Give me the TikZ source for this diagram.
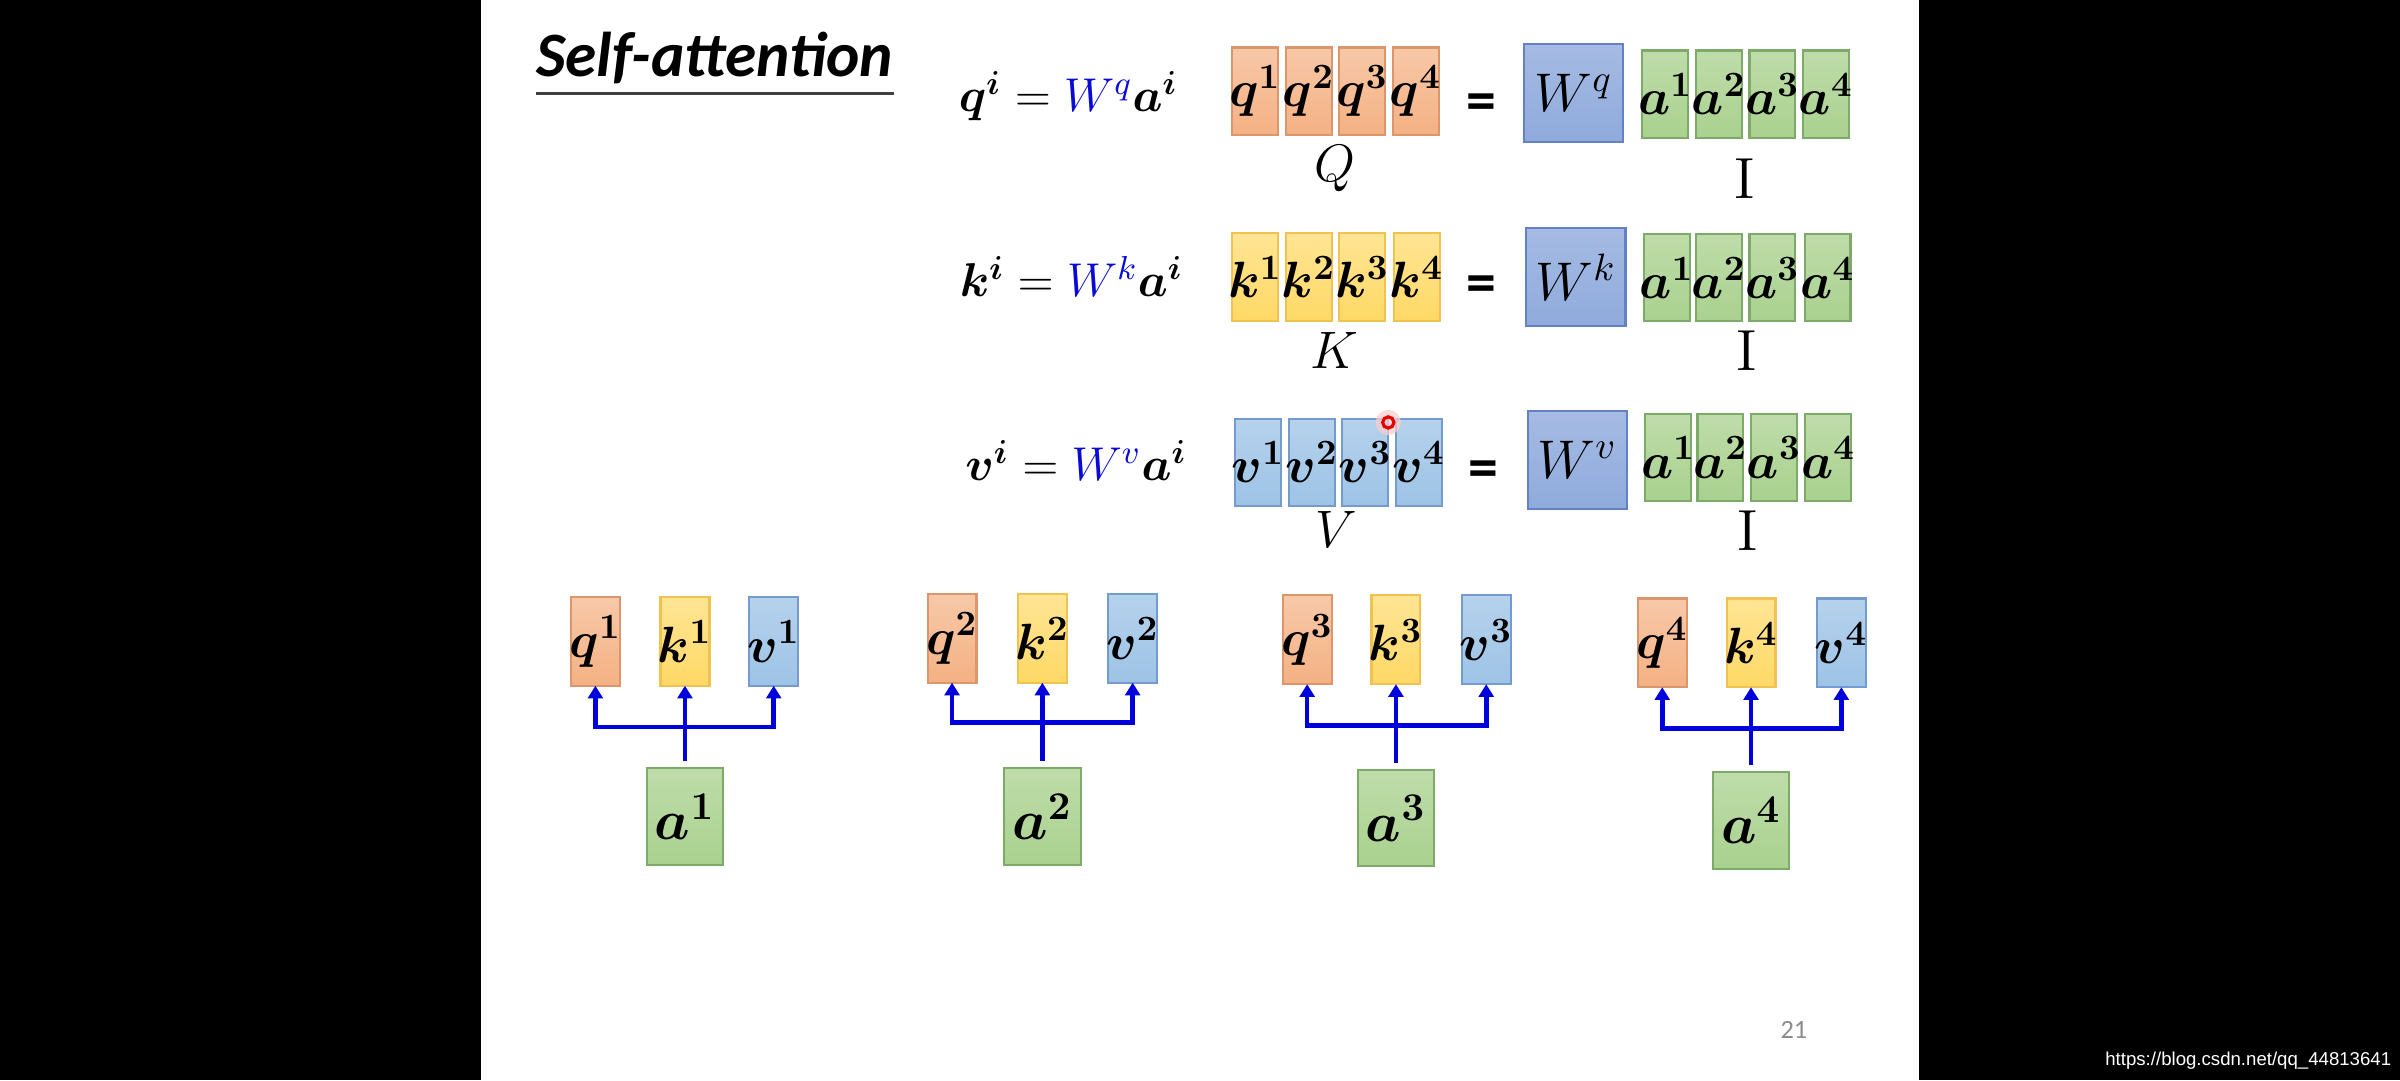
\RequirePackage{fix-cm}
\documentclass[tikz,border=0pt]{standalone}
\usepackage{amsmath}
\usepackage{bm}
\usepackage[no-math]{fontspec}
\setmainfont{Carlito}
\newfontfamily\wmfont{Liberation Sans}
\usetikzlibrary{arrows.meta}
\definecolor{qfill}{RGB}{244,177,131}
\definecolor{qdraw}{RGB}{220,150,110}
\definecolor{kfill}{RGB}{255,217,102}
\definecolor{kdraw}{RGB}{240,195,80}
\definecolor{vfill}{RGB}{157,195,230}
\definecolor{vdraw}{RGB}{115,155,205}
\definecolor{wfill}{RGB}{143,170,220}
\definecolor{wdraw}{RGB}{100,130,195}
\definecolor{afill}{RGB}{169,209,142}
\definecolor{adraw}{RGB}{125,170,105}
\definecolor{wblue}{RGB}{10,10,215}
\definecolor{linkblue}{RGB}{0,0,220}
\def\u{0.015306cm}
\newcommand{\cellmath}[1]{\makebox[0pt]{$#1$}}
\tikzset{
  cellbase/.style={line width=0.6pt, inner sep=0pt, outer sep=0pt,
    font=\fontsize{14.5}{16}\selectfont},
  qc/.style={cellbase, draw=qdraw, top color=qfill!70!white, bottom color=qfill},
  kc/.style={cellbase, draw=kdraw, top color=kfill!70!white, bottom color=kfill},
  vc/.style={cellbase, draw=vdraw, top color=vfill!75!white, bottom color=vfill},
  wc/.style={cellbase, draw=wdraw, top color=wfill!80!white, bottom color=wfill,
    font=\fontsize{15.5}{17}\selectfont},
  ac/.style={cellbase, draw=adraw, top color=afill!75!white, bottom color=afill},
  mcell/.style={minimum width=30*\u, minimum height=57*\u},
  bcell/.style={minimum width=32*\u, minimum height=58*\u},
  wcell/.style={minimum width=65*\u, minimum height=64*\u},
  acell/.style={minimum width=50*\u, minimum height=63*\u},
  eqn/.style={font=\fontsize{13.5}{15}\selectfont, inner sep=0pt},
  bigeq/.style={font=\fontsize{17}{20}\selectfont\bfseries, inner sep=0pt},
  lbl/.style={font=\fontsize{15}{17}\selectfont, inner sep=0pt},
  idl/.style={font=\fontsize{16.5}{19}\selectfont, inner sep=0pt},
  link/.style={draw=linkblue, line width=1.3pt},
  arr/.style={-{Triangle[length=3.6pt,width=4.2pt]}}
}
\begin{document}
\begin{tikzpicture}[x=0.015306cm, y=-0.015306cm]
\useasboundingbox (0,0) rectangle (1568,705.6);
\fill[black] (0,0) rectangle (1568,705.6);
\fill[white] (314,0) rectangle (1254,705.6);

% title
\node[anchor=base west, inner sep=0pt, font=\fontsize{18}{20}\selectfont\bfseries\itshape] (title) at (350,50) {Self-attention};
\draw[line width=0.9pt, black!75] (title.base west) ++(0,11) coordinate (ul) -- (ul -| title.base east);

% row 1: Q
\node[eqn, anchor=base] (eqq) at (698,73) {$\bm{q}^{\bm{i}} = {\color{wblue}W^{q}}\bm{a}^{\bm{i}}$};
\foreach \n/\x in {1/820,2/855,3/890,4/925}
  \node[qc, mcell] (Q\n) at (\x,59.5) {\cellmath{\bm{q}^{\mathbf{\n}}}};
\node[bigeq] (e1) at (968,70) {=};
\node[wc, wcell] (Wq) at (1028,60.5) {$W^{q}$};
\foreach \n/\x in {1/1088,2/1123,3/1158,4/1193}
  \node[ac, mcell] (IA\n) at (\x,61.5) {\cellmath{\bm{a}^{\mathbf{\n}}}};
\node[lbl] (lQ) at (872,110) {$Q$};
\node[idl] (lI1) at (1140,117) {$\mathrm{I}$};

% row 2: K
\node[eqn, anchor=base] (eqk) at (700,194) {$\bm{k}^{\bm{i}} = {\color{wblue}W^{k}}\bm{a}^{\bm{i}}$};
\foreach \n/\x in {1/820,2/855,3/890,4/925.5}
  \node[kc, mcell] (K\n) at (\x,181) {\cellmath{\bm{k}^{\mathbf{\n}}}};
\node[bigeq] (e2) at (968,189) {=};
\node[wc, wcell] (Wk) at (1029.5,181) {$W^{k}$};
\foreach \n/\x in {1/1089,2/1123,3/1158,4/1194}
  \node[ac, mcell] (IB\n) at (\x,181.5) {\cellmath{\bm{a}^{\mathbf{\n}}}};
\node[lbl] (lK) at (872,229) {$K$};
\node[idl] (lI2) at (1141,229) {$\mathrm{I}$};

% row 3: V
\node[eqn, anchor=base] (eqv) at (703,314) {$\bm{v}^{\bm{i}} = {\color{wblue}W^{v}}\bm{a}^{\bm{i}}$};
\foreach \n/\x in {1/822,2/857,3/892,4/927}
  \node[vc, mcell] (V\n) at (\x,302) {\cellmath{\bm{v}^{\mathbf{\n}}}};
\node[bigeq] (e3) at (969,310) {=};
\node[wc, wcell] (Wv) at (1030.5,300.5) {$W^{v}$};
\foreach \n/\x in {1/1090,2/1124,3/1159,4/1194.5}
  \node[ac, mcell] (IC\n) at (\x,299) {\cellmath{\bm{a}^{\mathbf{\n}}}};
\node[lbl] (lV) at (873,346) {$V$};
\node[idl] (lI3) at (1142,347) {$\mathrm{I}$};

% laser pointer
\fill[red!20, opacity=0.7] (907,276) circle (3.6pt);
\draw[red!90!black, line width=0.9pt] (907,276) circle (1.6pt);

% bottom groups
\foreach \n/\xq/\xk/\xv/\yt/\xa/\ya/\yh in
  {1/389/447.5/505.5/419/447.5/533.5/475,
   2/622/681/740/417/681/533.5/472,
   3/854/912/971/418/912/534.5/474,
   4/1086/1144/1203/420/1144/536/476}{
  \node[qc, bcell] (q\n) at (\xq,\yt) {\cellmath{\bm{q}^{\mathbf{\n}}}};
  \node[kc, bcell] (k\n) at (\xk,\yt) {\cellmath{\bm{k}^{\mathbf{\n}}}};
  \node[vc, bcell] (v\n) at (\xv,\yt) {\cellmath{\bm{v}^{\mathbf{\n}}}};
  \node[ac, acell, font=\fontsize{16}{18}\selectfont] (a\n) at (\xa,\ya) {\cellmath{\bm{a}^{\mathbf{\n}}}};
  \coordinate (h\n) at (\xa,\yh);
  \draw[link] ([yshift=2pt]a\n.north) -- (h\n);
  \draw[link, arr] (h\n) -| (q\n.south);
  \draw[link, arr] (h\n) -| (v\n.south);
  \draw[link, arr] (h\n) -- (k\n.south);
}

% page number and watermark
\node[font=\fontsize{7.5}{9}\selectfont, text=black!45] (pg) at (1172,673) {21};
\node[anchor=base west, inner sep=0pt, text=white, font=\wmfont\fontsize{5.3}{6}\selectfont] (wm) at (1375,696) {https://blog.csdn.net/qq\_44813641};
\end{tikzpicture}
\end{document}
